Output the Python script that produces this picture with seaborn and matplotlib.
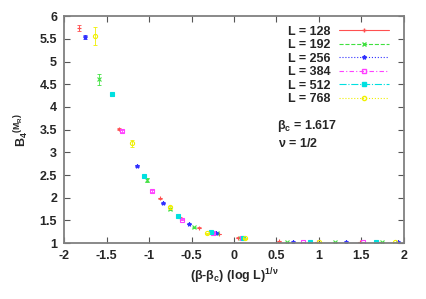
import seaborn as sns
import matplotlib.pyplot as plt
import pandas as pd
from matplotlib.lines import Line2D

# Tamaños de red y sus puntos (x escalado, B4, error)
L_vals = [128, 192, 256, 384, 512, 768]

x_128 = [-1.82, -1.35, -0.87, -0.63, -0.41, -0.18, 0.05, 0.53, 0.98, 1.48, 1.70]
y_128 = [5.74, 3.51, 1.99, 1.56, 1.34, 1.20, 1.12, 1.04, 1.03, 1.02, 1.02]
e_128 = [0.07, 0.02, 0.01, 0.01, 0.01, 0.01, 0.01, 0.01, 0.0, 0.0, 0.0]

x_192 = [-1.59, -1.02, -0.75, -0.47, -0.20, 0.08, 0.62, 1.19, 1.74]
y_192 = [4.61, 2.39, 1.75, 1.35, 1.22, 1.12, 1.03, 1.02, 1.02]
e_192 = [0.12, 0.04, 0.02, 0.01, 0.01, 0.01, 0.0, 0.0, 0.0]

x_256 = [-1.75, -1.14, -0.84, -0.53, -0.21, 0.09, 0.69, 1.32, 1.93]
y_256 = [5.54, 2.70, 1.88, 1.42, 1.22, 1.11, 1.03, 1.02, 1.02]
e_256 = [0.05, 0.02, 0.01, 0.01, 0.01, 0.01, 0.0, 0.0, 0.0]

x_384 = [-1.32, -0.96, -0.61, -0.25, 0.10, 0.81, 1.52]
y_384 = [3.47, 2.15, 1.51, 1.22, 1.12, 1.03, 1.02]
e_384 = [0.03, 0.02, 0.01, 0.01, 0.01, 0.0, 0.0]

x_512 = [-1.44, -1.06, -0.66, -0.27, 0.11, 0.89, 1.67]
y_512 = [4.28, 2.48, 1.60, 1.24, 1.12, 1.03, 1.02]
e_512 = [0.03, 0.02, 0.01, 0.01, 0.01, 0.0, 0.0]

x_768 = [-1.64, -1.20, -0.75, -0.32, 0.13, 1.00, 1.89]
y_768 = [5.56, 3.20, 1.79, 1.22, 1.11, 1.03, 1.02]
e_768 = [0.20, 0.08, 0.03, 0.01, 0.01, 0.0, 0.0]

datos = {128: (x_128, y_128, e_128), 192: (x_192, y_192, e_192),
         256: (x_256, y_256, e_256), 384: (x_384, y_384, e_384),
         512: (x_512, y_512, e_512), 768: (x_768, y_768, e_768)}

filas = []
for L in L_vals:
    xs, ys, es = datos[L]
    for xv, yv, ev in zip(xs, ys, es):
        filas.append({"L": L, "x": xv, "B4": yv, "err": ev})
df = pd.DataFrame(filas)

colores = {128: "#ff5050", 192: "#40e040", 256: "#3030ff",
           384: "#ff40ff", 512: "#00e0e0", 768: "#f0f000"}
marcadores = {128: "+", 192: "x", 256: "*", 384: "s", 512: "s", 768: "o"}
relleno = {128: True, 192: True, 256: True, 384: False, 512: True, 768: False}
estilos = {128: "-", 192: "--", 256: ":", 384: (0, (4, 2, 1, 2)),
           512: "-.", 768: ":"}

sns.set_style("ticks")
plt.rcParams["font.family"] = ["Liberation Sans", "DejaVu Sans"]
plt.rcParams["font.weight"] = "bold"
plt.rcParams["mathtext.fontset"] = "custom"
plt.rcParams["mathtext.rm"] = "Liberation Sans:bold"
plt.rcParams["mathtext.it"] = "Liberation Sans:bold"
plt.rcParams["mathtext.bf"] = "Liberation Sans:bold"

fs = 9

fig, ax = plt.subplots(figsize=(4.27, 2.99), dpi=100)
fig.subplots_adjust(left=0.15, right=0.946, top=0.946, bottom=0.187)

for L in L_vals:
    d = df[df["L"] == L]
    c = colores[L]
    ax.errorbar(d["x"], d["B4"], yerr=d["err"], fmt="none", ecolor=c,
                elinewidth=0.6, capsize=1.5, capthick=0.6)
    fc = c if relleno[L] else "none"
    ax.plot(d["x"], d["B4"], linestyle="none", marker=marcadores[L],
            markersize=3.0, markeredgecolor=c, markerfacecolor=fc,
            markeredgewidth=0.8)

ax.set_xlim(-2, 2)
ax.set_ylim(1, 6)
ax.set_xticks([-2, -1.5, -1, -0.5, 0, 0.5, 1, 1.5, 2])
ax.set_xticklabels(["-2", "-1.5", "-1", "-0.5", "0", "0.5", "1", "1.5", "2"])
ax.set_yticks([1, 1.5, 2, 2.5, 3, 3.5, 4, 4.5, 5, 5.5, 6])
ax.set_yticklabels(["1", "1.5", "2", "2.5", "3", "3.5", "4", "4.5", "5", "5.5", "6"])
ax.tick_params(direction="in", top=True, right=True, length=4, width=0.8,
               color="#555555", labelsize=fs, pad=5)
for lab in ax.get_xticklabels() + ax.get_yticklabels():
    lab.set_fontweight("bold")
for s in ax.spines.values():
    s.set_color("#808080")
    s.set_linewidth(1.3)

ax.set_xlabel(r"($\beta$-$\beta_c$) (log L)$^{1/\nu}$", fontsize=fs,
              fontweight="bold", labelpad=3)
ax.set_ylabel(r"B$_4$$^{(M_R)}$", fontsize=fs, fontweight="bold", labelpad=6)

handles = [Line2D([0], [0], color=colores[L], linestyle=estilos[L], linewidth=0.8,
                  marker=marcadores[L], markersize=3.0, markeredgecolor=colores[L],
                  markerfacecolor=colores[L] if relleno[L] else "none")
           for L in L_vals]
labels = [f"L = {L}" for L in L_vals]
leg = ax.legend(handles, labels, loc="upper right", markerfirst=False,
                frameon=False, fontsize=fs, handlelength=4.0, labelspacing=0.12,
                borderaxespad=0.35, handletextpad=0.7,
                bbox_to_anchor=(0.985, 1.0))
for t in leg.get_texts():
    t.set_fontweight("bold")
for L, ln in zip(L_vals, leg.get_lines()):
    ln.set_color(colores[L])
    ln.set_markeredgecolor(colores[L])

ax.text(0.51, 3.58, r"$\beta_c$ = 1.617", fontsize=fs, fontweight="bold", va="center")
ax.text(0.52, 3.2, r"$\nu$ = 1/2", fontsize=fs, fontweight="bold", va="center")

plt.savefig("out.png", dpi=100)
